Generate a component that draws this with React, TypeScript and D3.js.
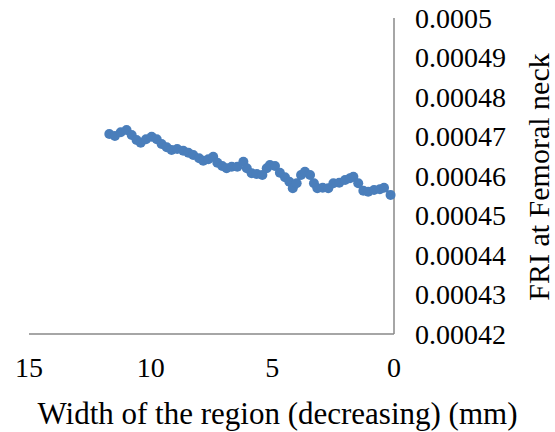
import React from "react";
import * as d3 from "d3";

// Width of the analysed region (mm), decreasing
const widths: number[] = [
  11.7, 11.47, 11.23, 10.99, 10.78, 10.58, 10.41, 10.19, 9.96, 9.75,
  9.55, 9.34, 9.14, 8.91, 8.66, 8.45, 8.25, 8.01, 7.84, 7.63,
  7.43, 7.26, 7.06, 6.88, 6.67, 6.44, 6.19, 6.05, 5.85, 5.64,
  5.41, 5.23, 5.1, 4.89, 4.69, 4.48, 4.3, 4.16, 4.0, 3.82,
  3.66, 3.45, 3.29, 3.15, 2.93, 2.7, 2.49, 2.25, 2.01, 1.81,
  1.67, 1.47, 1.26, 1.06, 0.82, 0.58, 0.41, 0.14,
];

// FRI at the femoral neck for each width
const friValues: number[] = [
  0.00047063, 0.00047013, 0.00047106, 0.00047165, 0.00047038, 0.00046911, 0.00046843, 0.00046929, 0.00046995, 0.00046929,
  0.0004681, 0.00046727, 0.00046658, 0.00046684, 0.00046641, 0.0004659, 0.00046532, 0.00046448, 0.00046387, 0.00046423,
  0.00046489, 0.00046337, 0.00046253, 0.00046195, 0.00046235, 0.00046235, 0.00046362, 0.00046195, 0.00046068, 0.00046051,
  0.00046025, 0.00046195, 0.00046278, 0.00046253, 0.00046084, 0.00045967, 0.00045856, 0.00045689, 0.00045815, 0.00046025,
  0.00046109, 0.00046025, 0.00045815, 0.00045689, 0.00045704, 0.00045689, 0.00045815, 0.0004583, 0.00045899, 0.00045942,
  0.00045982, 0.00045815, 0.00045628, 0.00045603, 0.00045646, 0.00045663, 0.00045704, 0.00045519,
];

const xTicks: number[] = [15, 10, 5, 0];
const yTicks: number[] = [0.00042, 0.00043, 0.00044, 0.00045, 0.00046, 0.00047, 0.00048, 0.00049, 0.0005];
const yTickLabels: string[] = ["0.00042", "0.00043", "0.00044", "0.00045", "0.00046", "0.00047", "0.00048", "0.00049", "0.0005"];

const xTitle = "Width of the region (decreasing) (mm)";
const yTitle = "FRI at Femoral neck";

const W = 555;
const H = 432;
const plotLeft = 29;
const plotRight = 394;
const plotTop = 18;
const plotBottom = 334;

const BLUE = "#4A7EBB";
const AXIS = "#898989";
const FONT = "Liberation Serif";

export default function App() {
  const x = d3.scaleLinear().domain([15, 0]).range([plotLeft, plotRight]);
  const y = d3.scaleLinear().domain([0.00042, 0.0005]).range([plotBottom, plotTop]);

  const points = widths.map((w, i) => [w, friValues[i]] as [number, number]);
  const line = d3
    .line<[number, number]>()
    .x((d) => x(d[0]))
    .y((d) => y(d[1]));

  return (
    <svg width={W} height={H} style={{ position: "absolute", left: 0, top: 0, background: "#fff" }}>
      <rect x={0} y={0} width={W} height={H} fill="#fff" />
      {/* axes */}
      <line x1={plotLeft} x2={plotRight} y1={plotBottom} y2={plotBottom} stroke={AXIS} strokeWidth={1.5} />
      <line x1={plotRight} x2={plotRight} y1={plotTop} y2={plotBottom} stroke={AXIS} strokeWidth={1.5} />

      {/* x tick labels */}
      {xTicks.map((t) => (
        <text key={t} x={x(t)} y={377} fontSize={28} fontFamily={FONT} textAnchor="middle" fill="#000">
          {t}
        </text>
      ))}

      {/* y tick labels on the right */}
      {yTicks.map((t, i) => (
        <text key={t} x={415} y={y(t)} dy="0.35em" fontSize={28} fontFamily={FONT} textAnchor="start" fill="#000">
          {yTickLabels[i]}
        </text>
      ))}

      {/* series */}
      <path d={line(points) ?? ""} fill="none" stroke={BLUE} strokeWidth={3} strokeLinejoin="round" />
      {points.map((p, i) => (
        <circle key={i} cx={x(p[0])} cy={y(p[1])} r={5} fill={BLUE} />
      ))}

      {/* titles */}
      <text x={277.5} y={424} fontSize={31} fontFamily={FONT} textAnchor="middle" fill="#000">
        {xTitle}
      </text>
      <text
        transform={`translate(549, 177) rotate(-90)`}
        fontSize={30}
        fontFamily={FONT}
        textAnchor="middle"
        fill="#000"
      >
        {yTitle}
      </text>
    </svg>
  );
}
